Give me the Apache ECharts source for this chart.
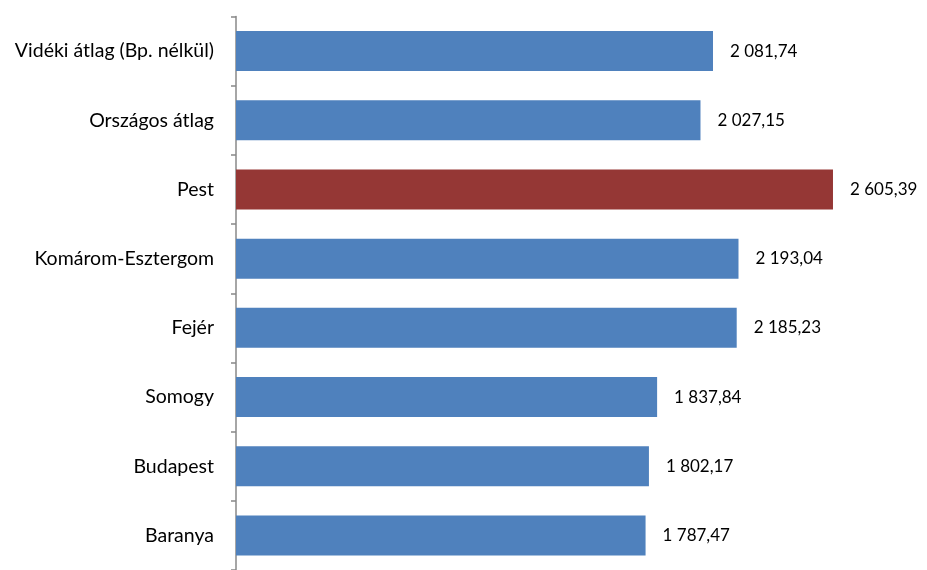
<!DOCTYPE html>
<html><head><meta charset="utf-8">
<script src="https://cdn.jsdelivr.net/npm/echarts@6/dist/echarts.min.js"></script>
<style>html,body{margin:0;padding:0;background:#fff}#c{width:927px;height:570px}</style>
</head><body><div id="c"></div>
<script>
var categories = ['Baranya','Budapest','Somogy','Fejér','Komárom-Esztergom','Pest','Országos átlag','Vidéki átlag (Bp. nélkül)'];
var values = [1787.47, 1802.17, 1837.84, 2185.23, 2193.04, 2605.39, 2027.15, 2081.74];
var highlighted = ['Pest'];

function fmt(v){
  var parts = v.toFixed(2).split('.');
  var intPart = parts[0].replace(/\B(?=(\d{3})+(?!\d))/g, ' ');
  return intPart + ',' + parts[1];
}
var chart = echarts.init(document.getElementById('c'), null, {renderer:'canvas'});
var FONT = 'Lato';
chart.setOption({
  animation:false,
  grid:{left:236, top:16.5, width:687.4, height:560},
  xAxis:{type:'value', min:0, max:3000, show:false},
  yAxis:{type:'category', data:categories,
    axisLine:{lineStyle:{color:'#888', width:1.5}},
    axisTick:{show:true, length:5, lineStyle:{color:'#888', width:1.5}},
    axisLabel:{color:'#000', fontFamily:FONT, fontSize:19.5, margin:22}
  },
  series:[{type:'bar', barWidth:40,
    data: values.map(function(v,i){
      return {value:v, itemStyle:{color: highlighted.indexOf(categories[i])>=0 ? '#953735' : '#4F81BD'}};
    }),
    label:{show:true, position:'right', distance:17, color:'#000', fontFamily:FONT, fontSize:17,
      formatter:function(p){return fmt(p.value);}}
  }]
});
</script></body></html>
